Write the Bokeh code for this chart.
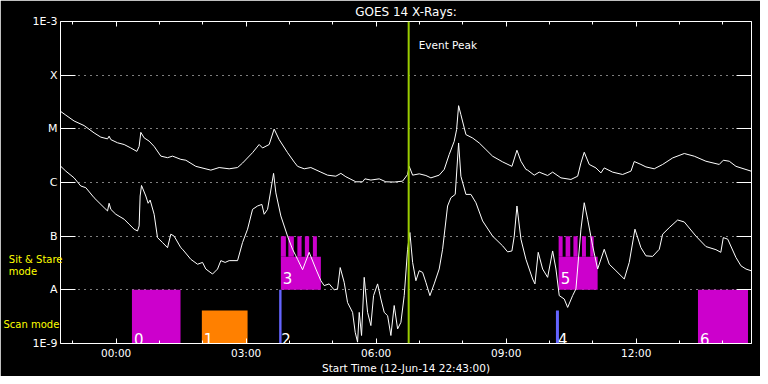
from bokeh.plotting import figure
from bokeh.models import (Range1d, FixedTicker, LinearAxis, LogAxis, Label,
                          CustomJSTickFormatter, ColumnDataSource, Span)
from bokeh.core.properties import value
from bokeh.embed import file_html
from bokeh.resources import INLINE

# ---------------- data ----------------
# time in hours relative to 13-Jun-14 00:00 (start 12-Jun-14 22:43)
x_start, x_end = -1.2833, 14.66
event_peak = 6.75

# GOES long channel (upper curve): (hour, flux W/m^2)
upper = [(-1.276, 2.1e-5), (-1.161, 1.8e-5), (-0.969, 1.4e-5), (-0.739, 1.15e-5), (-0.508, 8.4e-6),
         (-0.353, 7.0e-6), (-0.198, 6.5e-6), (-0.162, 7.3e-6), (-0.122, 6.3e-6), (0.032, 5.5e-6),
         (0.185, 5.1e-6), (0.339, 4.4e-6), (0.478, 3.8e-6), (0.531, 4.7e-6), (0.570, 8.6e-6),
         (0.646, 6.8e-6), (0.762, 5.9e-6), (0.877, 4.7e-6), (1.032, 3.1e-6), (1.186, 2.9e-6),
         (1.302, 3.1e-6), (1.493, 2.7e-6), (1.609, 2.6e-6), (1.839, 2.0e-6), (2.186, 1.7e-6),
         (2.377, 1.9e-6), (2.608, 1.8e-6), (2.802, 1.9e-6), (2.917, 2.3e-6), (3.148, 3.6e-6),
         (3.300, 5.1e-6), (3.379, 4.4e-6), (3.531, 5.1e-6), (3.646, 9.9e-6), (3.762, 6.3e-6),
         (3.956, 3.6e-6), (4.110, 2.4e-6), (4.187, 2.0e-6), (4.339, 1.8e-6), (4.493, 1.9e-6),
         (4.724, 1.56e-6), (4.879, 1.37e-6), (5.070, 1.31e-6), (5.186, 1.48e-6), (5.301, 1.28e-6),
         (5.532, 1.03e-6), (5.687, 1.03e-6), (5.740, 1.17e-6), (5.878, 1.11e-6), (6.070, 1.17e-6),
         (6.224, 1.03e-6), (6.416, 1.02e-6), (6.610, 1.06e-6), (6.725, 1.41e-6), (6.762, 2.0e-6),
         (6.841, 1.37e-6), (6.993, 1.45e-6), (7.147, 1.35e-6), (7.263, 1.22e-6), (7.454, 1.37e-6),
         (7.570, 1.75e-6), (7.685, 3.32e-6), (7.801, 5.86e-6), (7.856, 9.67e-6), (7.902, 2.7e-5),
         (7.955, 1.83e-5), (8.071, 7.8e-6), (8.225, 6.75e-6), (8.378, 5.45e-6), (8.532, 4.11e-6),
         (8.687, 3.09e-6), (8.918, 2.42e-6), (9.132, 2.0e-6), (9.248, 3.99e-6), (9.340, 2.49e-6),
         (9.456, 1.75e-6), (9.495, 1.70e-6), (9.647, 1.37e-6), (9.762, 1.56e-6), (9.956, 1.35e-6),
         (10.072, 1.56e-6), (10.263, 1.22e-6), (10.494, 1.14e-6), (10.649, 1.31e-6), (10.725, 2.32e-6),
         (10.801, 3.66e-6), (10.916, 2.17e-6), (11.071, 1.87e-6), (11.186, 1.51e-6), (11.262, 1.87e-6),
         (11.456, 1.56e-6), (11.687, 1.41e-6), (11.879, 1.63e-6), (11.955, 2.46e-6), (12.109, 2.17e-6),
         (12.225, 1.95e-6), (12.416, 1.80e-6), (12.610, 2.17e-6), (12.841, 2.87e-6), (13.109, 3.47e-6),
         (13.340, 3.09e-6), (13.609, 2.49e-6), (13.916, 2.17e-6), (14.009, 2.60e-6), (14.147, 2.49e-6),
         (14.302, 2.0e-6), (14.649, 1.63e-6)]

# GOES short channel (lower curve): (hour, flux W/m^2)
lower = [(-1.276, 2.0e-6), (-1.161, 1.63e-6), (-0.969, 1.22e-6), (-0.815, 8.6e-7), (-0.699, 8.0e-7),
         (-0.508, 5.2e-7), (-0.277, 3.4e-7), (-0.198, 2.95e-7), (-0.162, 4.1e-7), (-0.122, 3.16e-7),
         (-0.007, 2.56e-7), (0.185, 2.07e-7), (0.300, 1.67e-7), (0.415, 1.35e-7), (0.494, 1.25e-7),
         (0.531, 1.55e-7), (0.554, 5.6e-7), (0.586, 8.8e-7), (0.685, 5.6e-7), (0.739, 4.1e-7),
         (0.785, 4.7e-7), (0.877, 2.56e-7), (0.955, 9.4e-8), (1.071, 7.6e-8), (1.186, 6.1e-8),
         (1.262, 1.09e-7), (1.339, 1.0e-7), (1.493, 6.1e-8), (1.532, 5.7e-8), (1.724, 3.7e-8),
         (1.879, 3.0e-8), (1.994, 3.24e-8), (2.070, 2.44e-8), (2.225, 1.97e-8), (2.340, 2.44e-8),
         (2.416, 3.5e-8), (2.516, 3.24e-8), (2.608, 3.5e-8), (2.802, 3.5e-8), (2.917, 7.6e-8),
         (3.033, 1.35e-7), (3.148, 3.16e-7), (3.263, 3.65e-7), (3.363, 3.9e-7), (3.416, 2.56e-7),
         (3.494, 3.16e-7), (3.547, 5.6e-7), (3.633, 1.48e-6), (3.686, 6.4e-7), (3.801, 2.38e-7),
         (3.956, 1.0e-7), (4.071, 5.7e-8), (4.147, 4.3e-8), (4.187, 3.7e-8), (4.302, 2.37e-8),
         (4.454, 5.0e-8), (4.609, 2.44e-8), (4.724, 1.48e-8), (4.800, 1.2e-8), (4.916, 1.29e-8),
         (5.031, 1.0e-8), (5.109, 1.04e-8), (5.170, 2.6e-8), (5.262, 1.38e-8), (5.340, 5.8e-9),
         (5.456, 3.8e-9), (5.516, 1.62e-9), (5.571, 1.06e-9), (5.609, 3.8e-9), (5.663, 1.41e-9),
         (5.724, 1.71e-8), (5.802, 3.8e-9), (5.878, 2.16e-9), (5.940, 7.8e-9), (6.033, 1.29e-8),
         (6.109, 6.75e-9), (6.186, 3.8e-9), (6.264, 3.3e-9), (6.340, 1.41e-9), (6.416, 5.1e-9),
         (6.495, 1.87e-9), (6.571, 2.48e-9), (6.647, 7.8e-9), (6.725, 5.7e-8), (6.778, 1.17e-7),
         (6.841, 3.24e-8), (6.917, 1.48e-8), (6.993, 2.27e-8), (7.072, 2.11e-8), (7.147, 1.38e-8),
         (7.240, 7.8e-9), (7.339, 1.29e-8), (7.454, 2.44e-8), (7.533, 5.7e-8), (7.648, 3.65e-7),
         (7.724, 5.2e-7), (7.824, 6.0e-7), (7.902, 5.45e-6), (7.955, 1.31e-6), (8.071, 6.0e-7),
         (8.186, 6.0e-7), (8.302, 4.2e-7), (8.456, 1.92e-7), (8.687, 1.0e-7), (8.918, 6.6e-8),
         (9.033, 5.1e-8), (9.132, 5.3e-8), (9.186, 1.0e-7), (9.248, 3.65e-7), (9.340, 8.8e-8),
         (9.456, 3.7e-8), (9.610, 1.59e-8), (9.663, 1.29e-8), (9.739, 5.0e-8), (9.841, 2.44e-8),
         (9.956, 1.71e-8), (10.072, 5.3e-8), (10.148, 2.44e-8), (10.224, 7.8e-9), (10.339, 6.75e-9),
         (10.418, 4.7e-9), (10.533, 7.8e-9), (10.609, 1.04e-8), (10.725, 1.35e-7), (10.801, 4.2e-7),
         (10.879, 2.07e-7), (10.995, 6.6e-8), (11.110, 2.44e-8), (11.262, 5.7e-8), (11.378, 3.0e-8),
         (11.532, 2.27e-8), (11.724, 1.59e-8), (11.839, 3.24e-8), (11.971, 1.35e-7), (12.109, 6.1e-8),
         (12.225, 4.3e-8), (12.379, 4.2e-8), (12.532, 5.7e-8), (12.610, 1.09e-7), (12.762, 1.44e-7),
         (12.956, 2.0e-7), (13.109, 1.84e-7), (13.379, 1.0e-7), (13.609, 6.4e-8), (13.840, 5.6e-8),
         (13.952, 5.0e-8), (14.009, 9.4e-8), (14.111, 8.8e-8), (14.302, 4.0e-8), (14.417, 2.8e-8),
         (14.533, 2.44e-8), (14.649, 2.27e-8)]

# observation blocks
block_id = ["0", "1", "2", "3", "4", "5", "6"]
block_kind = ["scan", "scan_b", "raster", "sitstare", "raster", "sitstare", "scan"]
block_start = [0.365, 1.978, 3.762, 3.801, 10.148, 10.210, 13.425]
block_end = [1.486, 3.033, 3.817, 4.724, 10.217, 11.110, 14.579]
block_bottom = [1e-9, 1e-9, 1e-9, 1e-8, 1e-9, 1e-8, 1e-9]
block_top = [1e-8, 4.1e-9, 1e-8, 4.13e-8, 4.1e-9, 4.13e-8, 1e-8]
label_flux = [1.19e-9, 1.19e-9, 1.19e-9, 1.66e-8, 1.19e-9, 1.66e-8, 1.19e-9]

# individual sit & stare exposures (comb teeth)
tooth_start = [3.801, 3.974, 4.182, 4.355, 4.540, 10.210, 10.371, 10.551, 10.748, 10.939]
tooth_end = [3.917, 4.101, 4.279, 4.454, 4.632, 10.302, 10.478, 10.648, 10.840, 11.018]
tooth_bottom = 4.13e-8
tooth_top = 1e-7

# y axis classes
class_ticks = [1e-9, 1e-8, 1e-7, 1e-6, 1e-5, 1e-4, 1e-3]
class_labels = ["1E-9", "A", "B", "C", "M", "X", "1E-3"]
grid_ticks = [1e-8, 1e-7, 1e-6, 1e-5, 1e-4]

# mode legend (texts at left of the axis, at these flux levels)
mode_flux = [3.6e-8, 2.17e-8, 2.26e-9]
mode_texts = ["Sit & Stare", "mode" + "\u00a0" * 8, "Scan mode\u00a0"]

# x axis
x_major = [0, 3, 6, 9, 12]
x_minor = [-1, 1, 2, 4, 5, 7, 8, 10, 11, 13, 14]
x_labels = {0: "00:00", 3: "03:00", 6: "06:00", 9: "09:00", 12: "12:00"}

title_text = "GOES 14 X-Rays:"

# ---------------- styles ----------------
kind_color = {"scan": "#cc00cc", "scan_b": "#ff8000", "raster": "#6464ff", "sitstare": "#cc00cc"}
FONT = "DejaVu Sans"

p = figure(width=760, height=376, output_backend="svg", toolbar_location=None,
           x_range=Range1d(x_start, x_end), y_range=Range1d(1e-9, 1e-3),
           y_axis_type="log", min_border_left=60, min_border_right=9,
           min_border_top=20, min_border_bottom=33)
p.background_fill_color = "black"
p.border_fill_color = "black"
p.outline_line_color = None
p.xgrid.visible = False
p.ygrid.ticker = FixedTicker(ticks=grid_ticks)
p.ygrid.grid_line_color = "white"
p.ygrid.grid_line_dash = "1 5"
p.ygrid.grid_line_width = 1

# title
p.title.text = title_text
p.title.align = "center"
p.title.text_color = "white"
p.title.text_font = FONT
p.title.text_font_size = "12px"
p.title.text_font_style = "normal"
p.title.standoff = 5

ytick_fmt = CustomJSTickFormatter(args=dict(cvals=class_ticks, cnames=class_labels), code="""
    for (let i = 0; i < cvals.length; i++) {
        if (Math.abs(Math.log10(tick) - Math.log10(cvals[i])) < 0.01) return cnames[i];
    }
    return "";
""")
mode_fmt = CustomJSTickFormatter(args=dict(mvals=mode_flux, mnames=mode_texts), code="""
    for (let i = 0; i < mvals.length; i++) {
        if (Math.abs(Math.log10(tick) - Math.log10(mvals[i])) < 0.005) return mnames[i];
    }
    return "";
""")
blank_fmt = CustomJSTickFormatter(code="return '';")

def style_axis(ax):
    ax.axis_line_color = "white"
    ax.axis_line_width = 1
    ax.major_tick_line_color = "white"
    ax.minor_tick_line_color = "white"
    ax.major_tick_out = 0
    ax.minor_tick_out = 0
    ax.major_label_text_color = "white"
    ax.major_label_text_font = FONT

# left axis
ya = p.yaxis[0]
style_axis(ya)
ya.ticker = FixedTicker(ticks=class_ticks, minor_ticks=[])
ya.formatter = ytick_fmt
ya.major_tick_in = 15
ya.major_label_text_font_size = "11px"
ya.major_label_standoff = 3

# second left "axis" carrying only the yellow mode texts
ma = LogAxis(ticker=FixedTicker(ticks=mode_flux, minor_ticks=[]), formatter=mode_fmt)
ma.axis_line_color = None
ma.major_tick_line_color = None
ma.minor_tick_line_color = None
ma.major_tick_in = 0
ma.major_tick_out = 0
ma.minor_tick_in = 0
ma.minor_tick_out = 0
ma.major_label_text_color = "#ffff00"
ma.major_label_text_font = FONT
ma.major_label_text_font_size = "10px"
ma.major_label_standoff = -33
p.add_layout(ma, "left")

# right axis
ra = LogAxis(ticker=FixedTicker(ticks=class_ticks, minor_ticks=[]), formatter=blank_fmt)
style_axis(ra)
ra.major_tick_in = 15
ra.major_label_standoff = 0
p.add_layout(ra, "right")

# bottom axis
xa = p.xaxis[0]
style_axis(xa)
xa.ticker = FixedTicker(ticks=x_major, minor_ticks=x_minor)
xa.major_label_overrides = x_labels
xa.major_tick_in = 5
xa.minor_tick_in = 3
xa.major_label_text_font_size = "10.5px"
xa.major_label_standoff = 3
xa.axis_label = "Start Time (12-Jun-14 22:43:00)"
xa.axis_label_text_color = "white"
xa.axis_label_text_font = FONT
xa.axis_label_text_font_style = "normal"
xa.axis_label_text_font_size = "10.5px"
xa.axis_label_standoff = 0

# top axis
ta = LinearAxis(ticker=FixedTicker(ticks=x_major, minor_ticks=x_minor), formatter=blank_fmt)
style_axis(ta)
ta.major_tick_in = 5
ta.minor_tick_in = 3
ta.major_label_standoff = 0
p.add_layout(ta, "above")

# blocks
bsrc = ColumnDataSource(dict(left=block_start, right=block_end, bottom=block_bottom, top=block_top,
                             color=[kind_color[k] for k in block_kind],
                             label=block_id, ly=label_flux))
p.quad(left="left", right="right", bottom="bottom", top="top", source=bsrc,
       fill_color="color", line_color=None)
p.quad(left=tooth_start, right=tooth_end, bottom=tooth_bottom, top=tooth_top,
       fill_color=kind_color["sitstare"], line_color=None)

# curves
p.line([t for t, f in upper], [f for t, f in upper], line_color="white", line_width=1)
p.line([t for t, f in lower], [f for t, f in lower], line_color="white", line_width=1)

# event peak
p.add_layout(Span(location=event_peak, dimension="height", line_color="#9acd00", line_width=2))
p.add_layout(Label(x=event_peak, y=3.7e-4, x_offset=10, text="Event Peak", text_color="white",
                   text_font=FONT, text_font_size="10.5px", text_baseline="middle"))

# block labels
p.text(x="left", y="ly", text="label", source=bsrc, x_offset=2, text_color="white",
       text_font=value(FONT), text_font_size="15px", text_baseline="alphabetic")

open("out.html", "w").write(file_html(p, INLINE))
